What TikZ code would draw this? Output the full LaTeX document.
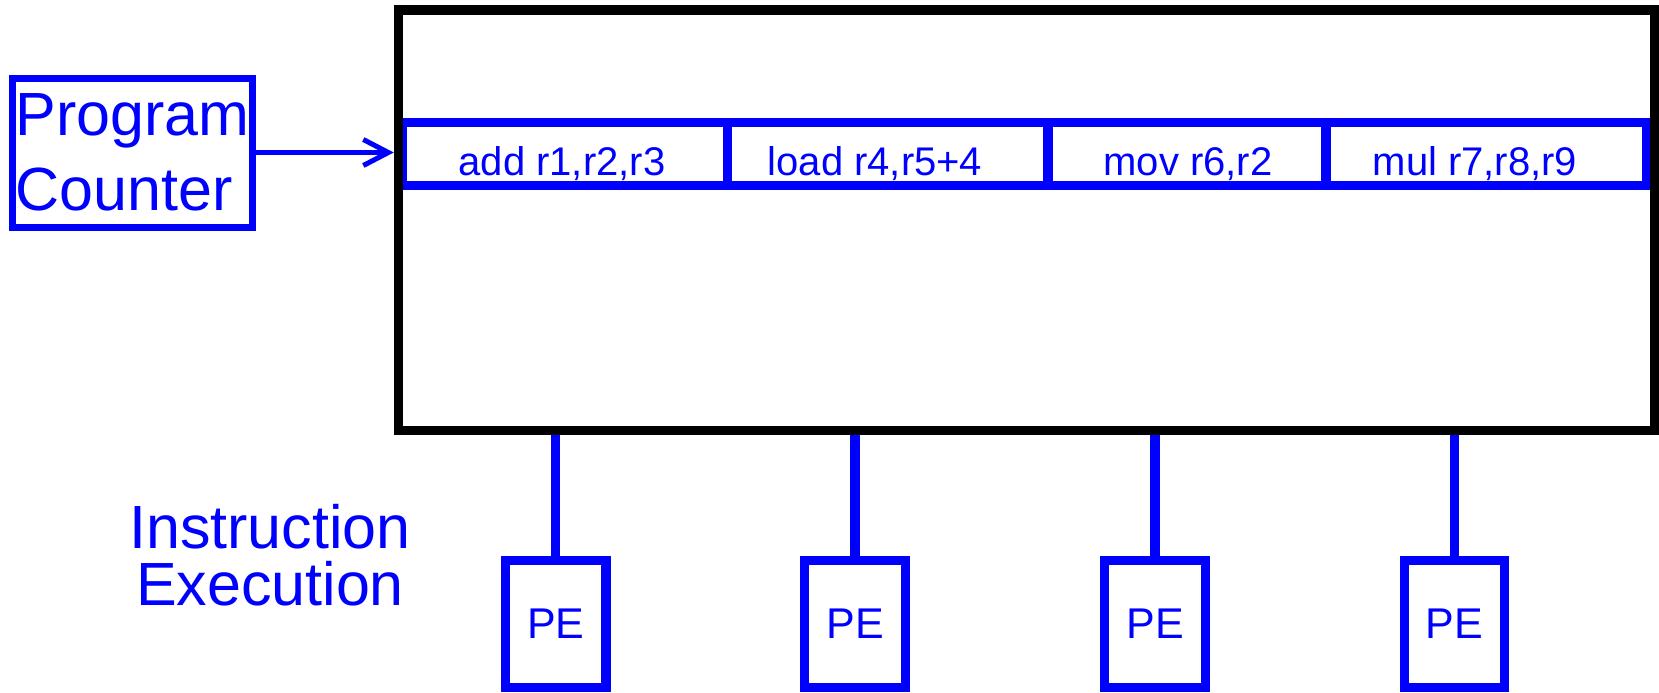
\documentclass[tikz,border=0pt]{standalone}
\usepackage{fontspec}
\setmainfont{Liberation Sans}
\usetikzlibrary{arrows.meta}
\definecolor{pblue}{RGB}{0,0,255}
\begin{document}
\begin{tikzpicture}[x=0.5pt,y=-0.5pt,
  cellbox/.style={draw=pblue, line width=4.75pt, inner sep=0pt, minimum height=31.6pt},
  celltext/.style={text=pblue, anchor=base, inner sep=0pt, font=\fontsize{20pt}{24pt}\selectfont},
  membox/.style={draw=black, line width=4.75pt, inner sep=0pt, minimum width=628.25pt, minimum height=210.25pt},
  pcbox/.style={draw=pblue, line width=3.5pt, inner sep=0pt, minimum width=120pt, minimum height=74.5pt,
    text=pblue, align=left, font=\fontsize{30.5pt}{37.5pt}\selectfont},
  bigtext/.style={text=pblue, align=center, inner sep=0pt, font=\fontsize{30.5pt}{28.5pt}\selectfont},
  pebox/.style={draw=pblue, line width=4.65pt, inner sep=0pt, minimum width=50.25pt, minimum height=63.75pt,
    text=pblue, font=\fontsize{21.5pt}{25pt}\selectfont},
  arrowline/.style={draw=pblue, line width=2.5pt, -{Straight Barb[length=12.5pt,width=13pt]}},
  conn/.style={draw=pblue, line width=4.65pt},
]
\useasboundingbox (0,0) rectangle (1659,692);
% instruction row cells
\node[cellbox, minimum width=162.75pt] (c1) at (564.75,153.9) {};
\node[cellbox, minimum width=160.25pt] (c2) at (887.75,153.9) {};
\node[cellbox, minimum width=139pt]    (c3) at (1187,153.9) {};
\node[cellbox, minimum width=160.5pt]  (c4) at (1486.5,153.9) {};
\node[celltext] (t1) at (562,175) {add r1,r2,r3};
\node[celltext] (t2) at (875,175) {load r4,r5+4};
\node[celltext] (t3) at (1188,175.5) {mov r6,r2};
\node[celltext] (t4) at (1475,175) {mul r7,r8,r9};
% instruction memory
\node[membox] (mem) at (1026.75,220.25) {};
% program counter
\node[pcbox] (pc) at (132.5,152.5) {Program\\Counter};
\draw[arrowline] (pc.east) -- (pc.east -| mem.west);
% instruction execution label
\node[bigtext] (ie) at (270,555) {Instruction\\Execution};
% processing elements
\node[pebox] (pe1) at (555.8,624) {PE};
\node[pebox] (pe2) at (855,624) {PE};
\node[pebox] (pe3) at (1155,624) {PE};
\node[pebox] (pe4) at (1454.5,624) {PE};
\foreach \p in {pe1,pe2,pe3,pe4}
  \draw[conn] (\p.north |- mem.south) -- (\p.north);
\end{tikzpicture}
\end{document}
